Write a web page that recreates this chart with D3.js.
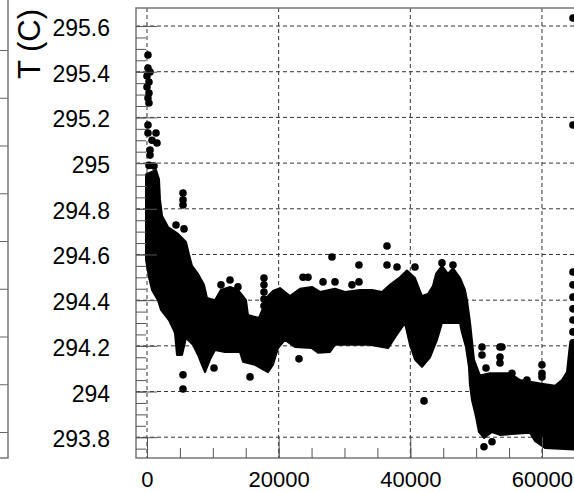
<!DOCTYPE html>
<html>
<head>
<meta charset="utf-8">
<script src="https://cdn.jsdelivr.net/npm/d3@7"></script>
<style>
  body { margin: 0; background: #fff; }
  svg { display: block; font-family: "Liberation Sans", Arial, Helvetica, sans-serif; }
</style>
</head>
<body>
<div id="chart"></div>
<script>
// tick labels
const xTicks = [0, 20000, 40000, 60000];
const yTicks = [293.8, 294, 294.2, 294.4, 294.6, 294.8, 295, 295.2, 295.4, 295.6];
const yTitle = "T (C)";

// outline of the dense cloud of points (x, T)
const outlineX = [
  -150, 1370, 1820, 1975, 2280, 3190, 4710, 5920, 6380, 6840, 7750, 8660, 9110, 10330,
  11240, 12610, 13820, 15040, 15340, 17010, 18380, 19140, 20200, 21720, 23240, 25060,
  26280, 28560, 30080, 32350, 34180, 35700, 36910, 38430, 39490, 40710, 41770, 42680,
  43440, 43900, 44810, 45720, 46480, 47550, 48300, 48610, 49060, 49670, 50580, 52100,
  55140, 56660, 59700, 61980, 63040, 63800, 64250, 65400,
  65400, 60460, 58940, 58180, 53620, 52410, 51190, 50430, 49980, 49370, 49060, 48910,
  48460, 47850, 47550, 44810, 44050, 42990, 41770, 40710, 39950, 39190, 37820, 36610,
  33870, 28560, 27800, 25980, 25060, 22480, 20960, 19900, 19140, 18380, 16410, 14580,
  14130, 11850, 10330, 9570, 8810, 8350, 7750, 6990, 5920, 5320, 4560, 4250, 3340,
  2130, 1670, 760, 300, -150
];
const outlineT = [
  294.95, 294.97, 294.93, 294.84, 294.77, 294.72, 294.69, 294.655, 294.60, 294.55, 294.515, 294.467, 294.41, 294.40,
  294.445, 294.458, 294.445, 294.40, 294.335, 294.322, 294.418, 294.44, 294.453, 294.418, 294.45, 294.458,
  294.436, 294.45, 294.436, 294.445, 294.445, 294.436, 294.467, 294.50, 294.53, 294.497, 294.418, 294.427,
  294.462, 294.515, 294.55, 294.515, 294.54, 294.497, 294.445, 294.40, 294.305, 294.14, 294.07, 294.08,
  294.08, 294.05, 294.035, 294.025, 294.05, 294.085, 294.205, 294.225,
  293.745, 293.753, 293.784, 293.82, 293.81, 293.823, 293.797, 293.823, 293.889, 293.963, 294.03, 294.108,
  294.195, 294.257, 294.30, 294.30, 294.226, 294.15, 294.108, 294.14, 294.205, 294.30, 294.243, 294.19,
  294.205, 294.205, 294.173, 294.17, 294.19, 294.195, 294.226, 294.19, 294.117, 294.085, 294.117, 294.13,
  294.173, 294.173, 294.182, 294.14, 294.085, 294.117, 294.16, 294.205, 294.235, 294.16, 294.16, 294.257, 294.313,
  294.357, 294.40, 294.445, 294.50, 294.576
];

// single points outside the dense cloud
const pointX = [
  150, 150, 460, 0, 300, 0, 300, 150, 300, 150, 150, 1370, 760, 1520, 460, 460, 300, 1060,
  5470, 5470, 5470, 4410, 5620,
  11240, 12610, 13820,
  17770, 17770, 17770, 17770, 17770,
  5470, 5470, 10180, 15650,
  23090, 28100, 32200, 36460, 36460, 37980, 40710, 23700, 24460, 26740, 28560, 32200, 31140,
  42080, 44810, 46480,
  50890, 50890, 51500, 53620, 53920, 53620, 53620, 55440, 57720, 60000, 60000, 60000,
  51190, 52410,
  64710, 64710, 64710, 64710, 64710, 64710, 64710, 64710, 64710
];
const pointT = [
  295.473, 295.416, 295.399, 295.381, 295.355, 295.333, 295.307, 295.285, 295.263, 295.167, 295.132, 295.132, 295.10, 295.088, 295.057, 295.035, 294.99, 294.987,
  294.869, 294.839, 294.817, 294.729, 294.712,
  294.467, 294.488, 294.458,
  294.497, 294.467, 294.436, 294.405, 294.375,
  294.073, 294.011, 294.103, 294.064,
  294.143, 294.589, 294.554, 294.637, 294.554, 294.545, 294.545, 294.50, 294.50, 294.48, 294.48, 294.48, 294.467,
  293.959, 294.563, 294.554,
  294.195, 294.16, 294.103, 294.195, 294.195, 294.151, 294.125, 294.08, 294.05, 294.117, 294.08, 294.064,
  293.758, 293.78,
  295.635, 295.167, 294.523, 294.467, 294.414, 294.362, 294.313, 294.261, 294.213
];

const width = 574, height = 492;
const frame = { left: 136, right: 576, top: 8, bottom: 458 };

const svg = d3.select("#chart")
  .append("svg")
  .attr("width", width)
  .attr("height", height);

const x = d3.scaleLinear().domain([-1670, 65170]).range([frame.left, frame.right]);
const y = d3.scaleLinear().domain([293.709, 295.679]).range([frame.bottom, frame.top]);

svg.append("defs").append("clipPath").attr("id", "plot")
  .append("rect")
  .attr("x", frame.left).attr("y", frame.top)
  .attr("width", frame.right - frame.left).attr("height", frame.bottom - frame.top);

// piece of the neighbouring pad on the left
const side = d3.scaleLinear().domain([0, 1]).range([432, 384.25]);
svg.append("g")
  .attr("transform", "translate(8,0)")
  .call(d3.axisLeft(side).tickValues(d3.range(9)).tickSize(8).tickFormat(""))
  .call(g => g.select(".domain").remove())
  .call(g => g.selectAll("line").attr("stroke", "#666"));
svg.append("path")
  .attr("d", "M8,0V458H0")
  .attr("fill", "none")
  .attr("stroke", "#777")
  .attr("stroke-width", 1.5);

// grid
const grid = svg.append("g")
  .attr("stroke", "#333")
  .attr("stroke-width", 1)
  .attr("stroke-dasharray", "4,3");
grid.selectAll(".gy")
  .data(yTicks)
  .enter()
  .append("line")
  .attr("x1", frame.left).attr("x2", frame.right)
  .attr("y1", d => y(d)).attr("y2", d => y(d));
grid.selectAll(".gx")
  .data(xTicks)
  .enter()
  .append("line")
  .attr("x1", d => x(d)).attr("x2", d => x(d))
  .attr("y1", frame.top).attr("y2", frame.bottom);

// data
const plot = svg.append("g").attr("clip-path", "url(#plot)");

const outline = outlineX.map((v, i) => [v, outlineT[i]]);
const line = d3.line()
  .x(d => x(d[0]))
  .y(d => y(d[1]));

plot.append("path")
  .attr("d", line(outline) + "Z")
  .attr("fill", "#000")
  .attr("stroke", "#000")
  .attr("stroke-width", 2)
  .attr("stroke-linejoin", "round");

plot.selectAll("circle")
  .data(pointX.map((v, i) => ({ x: v, t: pointT[i] })))
  .enter()
  .append("circle")
  .attr("cx", d => x(d.x))
  .attr("cy", d => y(d.t))
  .attr("r", 3.8)
  .attr("fill", "#000");

// frame and ticks
svg.append("rect")
  .attr("x", frame.left).attr("y", frame.top)
  .attr("width", frame.right - frame.left).attr("height", frame.bottom - frame.top)
  .attr("fill", "none")
  .attr("stroke", "#777")
  .attr("stroke-width", 1.5);

const tickStyle = g => {
  g.select(".domain").remove();
  g.selectAll("line").attr("stroke", "#555");
};

const yMinor = d3.range(38).map(i => 293.75 + i * 0.05);
const xMinor = d3.range(14).map(i => i * 5000);

svg.append("g")
  .attr("transform", `translate(${frame.left},0)`)
  .call(d3.axisRight(y).tickValues(yMinor).tickSize(10).tickFormat(""))
  .call(tickStyle);
svg.append("g")
  .attr("transform", `translate(${frame.left},0)`)
  .call(d3.axisRight(y).tickValues(yTicks).tickSize(21).tickFormat(""))
  .call(tickStyle);
svg.append("g")
  .attr("transform", `translate(0,${frame.bottom})`)
  .call(d3.axisTop(x).tickValues(xMinor).tickSize(10).tickFormat(""))
  .call(tickStyle);
svg.append("g")
  .attr("transform", `translate(0,${frame.bottom})`)
  .call(d3.axisTop(x).tickValues(xTicks).tickSize(21).tickFormat(""))
  .call(tickStyle);

// labels
svg.append("g")
  .attr("transform", `translate(${frame.left},0)`)
  .call(d3.axisLeft(y).tickValues(yTicks).tickSize(0).tickPadding(26).tickFormat(d3.format("~g")))
  .call(g => g.select(".domain").remove())
  .call(g => g.selectAll("text")
    .attr("dy", 9.5)
    .attr("fill", "#000")
    .attr("font-size", "23px")
    .attr("font-family", "Liberation Sans, Arial, sans-serif"));

svg.append("g")
  .attr("transform", `translate(0,${frame.bottom})`)
  .call(d3.axisBottom(x).tickValues(xTicks).tickSize(0).tickFormat(d3.format("d")))
  .call(g => g.select(".domain").remove())
  .call(g => g.selectAll("text")
    .attr("y", 29)
    .attr("dy", 0)
    .attr("fill", "#000")
    .attr("font-size", "22px")
    .attr("font-family", "Liberation Sans, Arial, sans-serif"));

svg.append("text")
  .attr("transform", "translate(40,9) rotate(-90)")
  .attr("text-anchor", "end")
  .attr("font-size", "31px")
  .text(yTitle);
</script>
</body>
</html>
